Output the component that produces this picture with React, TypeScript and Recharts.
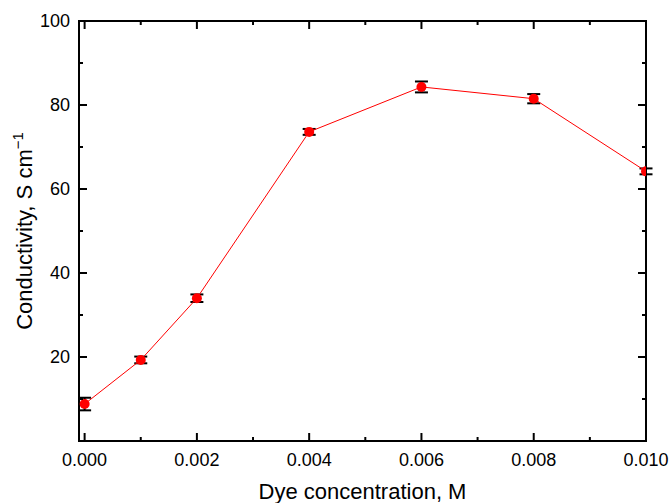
import React from 'react';
import { ScatterChart, Scatter, XAxis, YAxis, ErrorBar } from 'recharts';

// Dye concentration (M) vs conductivity (S cm-1)
const concentration = [0, 0.001, 0.002, 0.004, 0.006, 0.008, 0.01];
const conductivity = [8.8, 19.3, 34.0, 73.6, 84.3, 81.5, 64.2];
const conductivityErr = [1.5, 0.8, 0.9, 0.7, 1.3, 1.1, 0.7];

const xTicks = [0, 0.001, 0.002, 0.003, 0.004, 0.005, 0.006, 0.007, 0.008, 0.009, 0.01];
const xMajor = [0, 0.002, 0.004, 0.006, 0.008, 0.01];
const yTicks = [0, 10, 20, 30, 40, 50, 60, 70, 80, 90, 100];
const yMajor = [20, 40, 60, 80, 100];

const data = concentration.map((c, i) => ({
  x: c,
  y: conductivity[i],
  err: conductivityErr[i],
}));

const FONT = '"Liberation Sans", Arial, Helvetica, sans-serif';
const RED = '#ff0000';
// recharts shifts the tick anchor by tickSize; we keep it at 1 and undo it here
const TS = 1;

const isMajorX = (v: number) => xMajor.some((m) => Math.abs(m - v) < 1e-9);
const isMajorY = (v: number) => yMajor.includes(v) || v === 0;

// tick renderers: ticks point into the plot, labels only on major ones
const BottomTick = ({ x, y, payload }: any) => {
  const major = isMajorX(payload.value);
  const y0 = y - TS;
  return (
    <g>
      <line x1={x} x2={x} y1={y0} y2={y0 - (major ? 8 : 4)} stroke="#000" strokeWidth={2} />
      {major && (
        <text x={x} y={y0 + 25} textAnchor="middle" fontSize={18} fontFamily={FONT} fill="#000">
          {payload.value.toFixed(3)}
        </text>
      )}
    </g>
  );
};

const TopTick = ({ x, y, payload }: any) => {
  const major = isMajorX(payload.value);
  const y0 = y + TS;
  return <line x1={x} x2={x} y1={y0} y2={y0 + (major ? 8 : 4)} stroke="#000" strokeWidth={2} />;
};

const LeftTick = ({ x, y, payload }: any) => {
  const major = isMajorY(payload.value);
  const x0 = x + TS;
  return (
    <g>
      <line x1={x0} x2={x0 + (major ? 8 : 4)} y1={y} y2={y} stroke="#000" strokeWidth={2} />
      {yMajor.includes(payload.value) && (
        <text x={x0 - 9} y={y + 6} textAnchor="end" fontSize={18} fontFamily={FONT} fill="#000">
          {payload.value}
        </text>
      )}
    </g>
  );
};

const RightTick = ({ x, y, payload }: any) => {
  const major = isMajorY(payload.value);
  const x0 = x - TS;
  return <line x1={x0} x2={x0 - (major ? 8 : 4)} y1={y} y2={y} stroke="#000" strokeWidth={2} />;
};

const YTitle = ({ viewBox }: any) => {
  const cx = 32;
  const cy = viewBox.y + viewBox.height / 2;
  return (
    <text
      x={cx}
      y={cy}
      transform={`rotate(-90, ${cx}, ${cy})`}
      textAnchor="middle"
      fontSize={22}
      fontFamily={FONT}
      fill="#000"
    >
      Conductivity, S cm
      <tspan fontSize={15} dy={-9}>−1</tspan>
    </text>
  );
};

const Dot = ({ cx, cy }: any) => <circle cx={cx} cy={cy} r={5} fill={RED} />;
const Empty = () => <g />;

const axisLine = { stroke: '#000', strokeWidth: 2, strokeLinecap: 'square' as const };

export default function App() {
  return (
    <div style={{ position: 'absolute', left: 0, top: 0, background: '#fff' }}>
      <ScatterChart width={671} height={503} margin={{ top: 20, right: 24, bottom: 0, left: 0 }}>
        <XAxis
          xAxisId="bottom"
          type="number"
          dataKey="x"
          domain={[-0.0001, 0.01]}
          ticks={xTicks}
          interval={0}
          allowDataOverflow
          height={62}
          tickSize={TS}
          tickMargin={0}
          tickLine={false}
          axisLine={axisLine}
          tick={<BottomTick />}
          label={{
            value: 'Dye concentration, M',
            position: 'insideBottom',
            offset: 4,
            fontSize: 22,
            fontFamily: FONT,
            fill: '#000',
          }}
        />
        <XAxis
          xAxisId="top"
          orientation="top"
          type="number"
          dataKey="x"
          domain={[-0.0001, 0.01]}
          ticks={xTicks}
          interval={0}
          allowDataOverflow
          height={1}
          tickSize={TS}
          tickMargin={0}
          tickLine={false}
          axisLine={axisLine}
          tick={<TopTick />}
        />
        <YAxis
          yAxisId="left"
          type="number"
          dataKey="y"
          domain={[0, 100]}
          ticks={yTicks}
          interval={0}
          allowDataOverflow
          width={79}
          tickSize={TS}
          tickMargin={0}
          tickLine={false}
          axisLine={axisLine}
          tick={<LeftTick />}
          label={<YTitle />}
        />
        <YAxis
          yAxisId="right"
          orientation="right"
          type="number"
          dataKey="y"
          domain={[0, 100]}
          ticks={yTicks}
          interval={0}
          allowDataOverflow
          width={1}
          tickSize={TS}
          tickMargin={0}
          tickLine={false}
          axisLine={axisLine}
          tick={<RightTick />}
        />
        <Scatter
          data={data}
          xAxisId="bottom"
          yAxisId="left"
          fill={RED}
          line={{ stroke: RED, strokeWidth: 1 }}
          shape={<Dot />}
          isAnimationActive={false}
        />
        <Scatter
          data={data}
          xAxisId="top"
          yAxisId="right"
          fill="none"
          shape={<Empty />}
          isAnimationActive={false}
        >
          <ErrorBar dataKey="err" direction="y" width={6.5} stroke="#000" strokeWidth={2} isAnimationActive={false} />
        </Scatter>
      </ScatterChart>
    </div>
  );
}
